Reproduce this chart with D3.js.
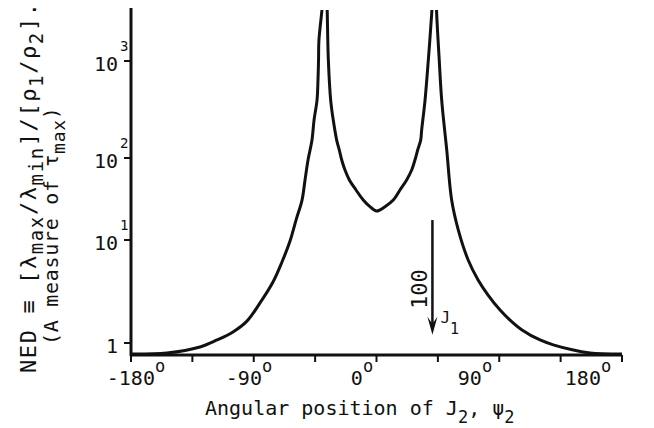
<!DOCTYPE html>
<html>
    <head>
        <meta charset="utf-8">
        <title>NED vs angular position of J2</title>
        <style>
            body { margin: 0; background: #fff; }
            svg { display: block; }
            text {
                font-family: 'DejaVu Sans Mono', monospace;
                fill: #111;
            }
        </style>
        <script src="https://d3js.org/d3.v7.min.js"></script>
        <script>
            // tick values and labels
            var xTicks = [-180, -135, -90, -45, 0, 45, 90, 135, 180];
            var xLabelValues = [-180, -90, 0, 90, 180];
            var xLabelText = ["-180", "-90", "0", "90", "180"];
            var yTicks = [1, 10, 100, 1000];
            var yLabelBase = ["1", "10", "10", "10"];
            var yLabelExp = ["", "1", "2", "3"];

            // curve (psi2 in degrees, NED)
            var leftAngle = [-180, -153.6, -129.4, -116.9, -105.2, -95.0, -85.4, -75.9, -69.3, -63.4, -59.0, -54.6, -52.4, -50.2, -47.3, -45.8, -43.6, -42.9, -42.5, -42.2, -40.0, -39.5];
            var leftValue = [0.78, 0.80, 0.915, 1.07, 1.28, 1.63, 2.45, 3.91, 6.12, 9.78, 17.5, 30.7, 54.0, 94.6, 153, 246, 396, 636, 1024, 1645, 3357, 4300];
            var midAngle = [-36.3, -36.1, -35.3, -33.6, -31.7, -29.2, -27.3, -25.5, -23.1, -19.9, -15.0, -9.7, -4.8, 0.1, 6.2, 12.3, 17.2, 22.1, 25.8, 28.2, 30.2, 32.4, 33.1, 35.6, 38.0, 40.5, 41.0];
            var midValue = [4300, 3126, 1024, 396, 246, 153, 121, 94.6, 71.4, 54.0, 40.7, 30.7, 25.5, 22.6, 25.5, 30.7, 40.7, 54.0, 71.4, 94.6, 121, 153, 194, 396, 1024, 3126, 4300];
            var rightAngle = [43.9, 44.1, 46.0, 47.8, 51.5, 55.1, 60.0, 67.2, 74.5, 81.8, 90.6, 97.9, 106.7, 119.9, 129.6, 144.3, 156.5, 180];
            var rightValue = [4300, 3126, 1024, 396, 121, 30.7, 13.2, 6.40, 4.09, 2.92, 2.09, 1.67, 1.34, 1.07, 0.96, 0.855, 0.80, 0.78];

            // J1 arrow
            var arrowAngle = 41;
            var arrowFrom = 17.5;
            var arrowTo = 1.2;

            function zip(a, b) {
                return a.map(function(v, i) { return [v, b[i]]; });
            }

            function run() {
                var svg = d3.select("#chart").append("svg")
                    .attr("width", 654)
                    .attr("height", 428);

                svg.append("rect").attr("width", 654).attr("height", 428).attr("fill", "#fff");

                var x = d3.scaleLinear().domain([-180, 180]).range([131, 622]);
                // hand drawn axis: decades are not evenly spaced
                var y = d3.scaleLog().domain([1, 10, 100, 1000]).range([343, 240, 158, 61]);
                var labelX = d3.scaleLinear().domain([-180, 180]).range([136, 588]);

                var y0 = 355, yTop = 8;

                svg.append("defs").append("clipPath").attr("id", "plot")
                    .append("rect")
                    .attr("x", x(-180)).attr("y", 10)
                    .attr("width", x(180) - x(-180)).attr("height", y0 - 10);

                // axes
                svg.append("line")
                    .attr("x1", x(-180)).attr("x2", x(-180))
                    .attr("y1", yTop).attr("y2", y0 + 1)
                    .attr("stroke", "#111").attr("stroke-width", 3);
                svg.append("line")
                    .attr("x1", x(-180) - 1).attr("x2", x(180))
                    .attr("y1", y0).attr("y2", y0)
                    .attr("stroke", "#111").attr("stroke-width", 3);

                svg.selectAll(".xtick").data(xTicks).enter().append("line")
                    .attr("x1", function(d) { return x(d); })
                    .attr("x2", function(d) { return x(d); })
                    .attr("y1", y0).attr("y2", y0 + 7)
                    .attr("stroke", "#111").attr("stroke-width", 2);

                svg.selectAll(".ytick").data(yTicks).enter().append("line")
                    .attr("x1", x(-180) - 7).attr("x2", x(-180))
                    .attr("y1", function(d) { return y(d); })
                    .attr("y2", function(d) { return y(d); })
                    .attr("stroke", "#111").attr("stroke-width", 2);

                // x tick labels with degree sign
                xLabelValues.forEach(function(v, i) {
                    var t = svg.append("text")
                        .attr("x", labelX(v)).attr("y", 385)
                        .attr("text-anchor", "middle")
                        .style("font-size", "20px");
                    t.append("tspan").text(xLabelText[i]);
                    t.append("tspan").attr("dy", -13).style("font-size", "17px").text("o");
                });

                // y tick labels
                yTicks.forEach(function(v, i) {
                    svg.append("text")
                        .attr("x", 118).attr("y", y(v) + 10)
                        .attr("text-anchor", "end")
                        .style("font-size", "20px")
                        .text(yLabelBase[i]);
                    if (yLabelExp[i]) {
                        svg.append("text")
                            .attr("x", 120).attr("y", y(v) - 10)
                            .style("font-size", "14px")
                            .text(yLabelExp[i]);
                    }
                });

                // x title
                var xt = svg.append("text").attr("x", 205).attr("y", 415).style("font-size", "20px");
                xt.append("tspan").text("Angular position of J");
                xt.append("tspan").attr("dy", 8).style("font-size", "17px").text("2");
                xt.append("tspan").attr("dy", -8).text(", \u03c8");
                xt.append("tspan").attr("dy", 8).style("font-size", "17px").text("2");

                // y title, two rotated lines
                var t1 = svg.append("text")
                    .attr("transform", "translate(36,373) rotate(-90)")
                    .style("font-size", "22px")
                    .style("letter-spacing", "1.6px");
                t1.append("tspan").text("NED \u2261 [\u03bb");
                t1.append("tspan").attr("dy", 7).style("font-size", "19px").text("max");
                t1.append("tspan").attr("dy", -7).text("/\u03bb");
                t1.append("tspan").attr("dy", 7).style("font-size", "19px").text("min");
                t1.append("tspan").attr("dy", -7).text("]/[\u03c1");
                t1.append("tspan").attr("dy", 7).style("font-size", "19px").text("1");
                t1.append("tspan").attr("dy", -7).text("/\u03c1");
                t1.append("tspan").attr("dy", 7).style("font-size", "19px").text("2");
                t1.append("tspan").attr("dy", -7).text("].");

                var t2 = svg.append("text")
                    .attr("transform", "translate(58,345) rotate(-90)")
                    .style("font-size", "20px")
                    .style("letter-spacing", "0.7px");
                t2.append("tspan").text("(A measure of \u03c4");
                t2.append("tspan").attr("dy", 7).style("font-size", "18px").text("max");
                t2.append("tspan").attr("dy", -7).text(")");

                // curve branches
                var line = d3.line()
                    .x(function(d) { return x(d[0]); })
                    .y(function(d) { return y(d[1]); })
                    .curve(d3.curveCatmullRom.alpha(0.5));

                var branches = [zip(leftAngle, leftValue), zip(midAngle, midValue), zip(rightAngle, rightValue)];
                svg.append("g").attr("clip-path", "url(#plot)")
                    .selectAll("path").data(branches).enter().append("path")
                    .attr("d", line)
                    .attr("fill", "none")
                    .attr("stroke", "#111")
                    .attr("stroke-width", 3)
                    .attr("stroke-linejoin", "round");

                // J1 arrow
                var ax = x(arrowAngle);
                svg.append("line")
                    .attr("x1", ax).attr("x2", ax)
                    .attr("y1", y(arrowFrom)).attr("y2", y(arrowTo) - 10)
                    .attr("stroke", "#111").attr("stroke-width", 2.5);
                svg.append("path")
                    .attr("d", "M" + (ax - 5) + "," + (y(arrowTo) - 18) +
                               "L" + ax + "," + y(arrowTo) +
                               "L" + (ax + 5) + "," + (y(arrowTo) - 18) +
                               "L" + ax + "," + (y(arrowTo) - 11) + "Z")
                    .attr("fill", "#111");

                svg.append("text")
                    .attr("transform", "translate(" + (ax - 5) + ",309) rotate(-90)")
                    .style("font-size", "22px")
                    .text("100");

                var jt = svg.append("text").attr("x", ax + 8).attr("y", 323).style("font-size", "16px");
                jt.append("tspan").text("J");
                jt.append("tspan").attr("dy", 11).style("font-size", "15px").text("1");
            }
        </script>
    </head>
    <body onload="run()">
        <div id="chart"></div>
    </body>
</html>
